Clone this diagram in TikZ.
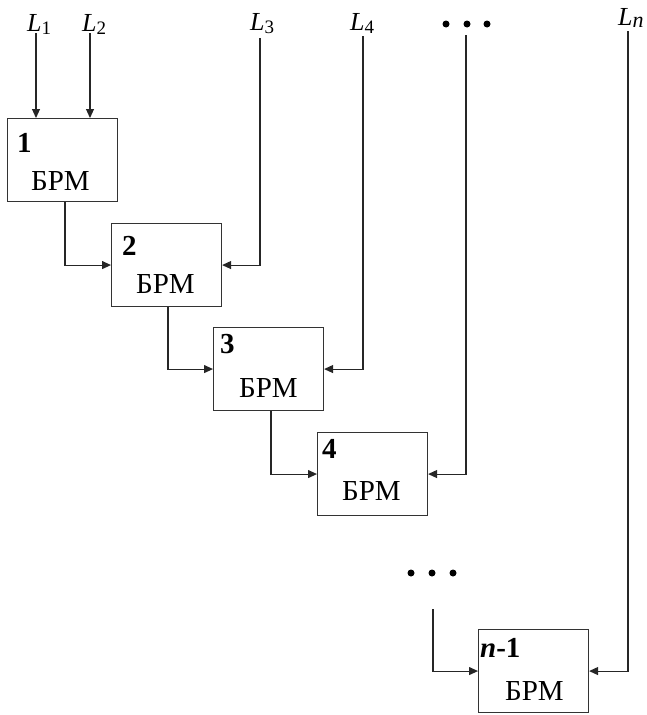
\documentclass[tikz,border=0pt]{standalone}
\usepackage{fontspec}
\setmainfont{Liberation Serif}
\usetikzlibrary{arrows.meta}
\tikzset{
  brm/.style={draw=black!80, line width=1.1pt, minimum width=110pt, minimum height=83pt, anchor=north west, inner sep=0pt},
  num/.style={anchor=base west, inner sep=0pt, font=\fontsize{29}{29}\selectfont\bfseries},
  lbl/.style={anchor=base west, inner sep=0pt, font=\fontsize{29}{29}\selectfont},
  top/.style={anchor=base west, inner sep=0pt, font=\fontsize{26}{26}\selectfont},
  link/.style={draw=black!85, line width=1.1pt, -{Triangle[length=9pt,width=8pt]}},
  dot/.style={circle, fill=black, inner sep=0pt, minimum size=7pt}
}
\newcommand{\Lsub}[1]{\textit{L}\raisebox{-3pt}{\fontsize{19}{19}\selectfont #1}}
\begin{document}
\begin{tikzpicture}[x=1pt,y=-1pt]
\useasboundingbox (0,0) rectangle (647,715);
% boxes
\node[brm] (b1) at (7,118) {};
\node[brm] (b2) at (111,223) {};
\node[brm] (b3) at (213,327) {};
\node[brm] (b4) at (317,432) {};
\node[brm] (bn) at (478,629) {};
% box texts
\node[num] (n1) at ([xshift=10pt,yshift=-34pt]b1.north west) {1};
\node[lbl] (t1) at ([xshift=24pt,yshift=-72pt]b1.north west) {БРМ};
\node[num] (n2) at ([xshift=11pt,yshift=-32pt]b2.north west) {2};
\node[lbl] (t2) at ([xshift=25pt,yshift=-70pt]b2.north west) {БРМ};
\node[num] (n3) at ([xshift=7pt,yshift=-26pt]b3.north west) {3};
\node[lbl] (t3) at ([xshift=26pt,yshift=-70pt]b3.north west) {БРМ};
\node[num] (n4) at ([xshift=5pt,yshift=-26pt]b4.north west) {4};
\node[lbl] (t4) at ([xshift=25pt,yshift=-68pt]b4.north west) {БРМ};
\node[num] (nn) at ([xshift=2pt,yshift=-28pt]bn.north west) {\textit{n}-1};
\node[lbl] (tn) at ([xshift=27pt,yshift=-71pt]bn.north west) {БРМ};
% top labels
\node[top] (L1) at (27,31) {\Lsub{1}};
\node[top] (L2) at (82,31) {\Lsub{2}};
\node[top] (L3) at (250,30) {\Lsub{3}};
\node[top] (L4) at (350,30) {\Lsub{4}};
\node[top] (Ln) at (618,25) {\textit{L}\raisebox{-2pt}{\fontsize{22}{22}\selectfont\textit{n}}};
% dots
\node[dot] (d1) at (446,24) {};
\node[dot] (d2) at (467,24) {};
\node[dot] (d3) at (487,24) {};
\node[dot] (e1) at (411,573) {};
\node[dot] (e2) at (432,573) {};
\node[dot] (e3) at (453,573) {};
% free ends
\coordinate (s1) at (36,33);
\coordinate (s2) at (90,33);
\coordinate (s3) at (260,38);
\coordinate (s4) at (363,36);
\coordinate (s5) at (466,35);
\coordinate (s6) at (433,609);
\coordinate (s7) at (628,31);
% connectors
\draw[link] (s1) -- (s1 |- b1.north);
\draw[link] (s2) -- (s2 |- b1.north);
\draw[link] ([xshift=58pt]b1.south west) |- (b2.west);
\draw[link] (s3) |- (b2.east);
\draw[link] ([xshift=57pt]b2.south west) |- (b3.west);
\draw[link] (s4) |- (b3.east);
\draw[link] ([xshift=58pt]b3.south west) |- (b4.west);
\draw[link] (s5) |- (b4.east);
\draw[link] (s6) |- (bn.west);
\draw[link] (s7) |- (bn.east);
\end{tikzpicture}
\end{document}
